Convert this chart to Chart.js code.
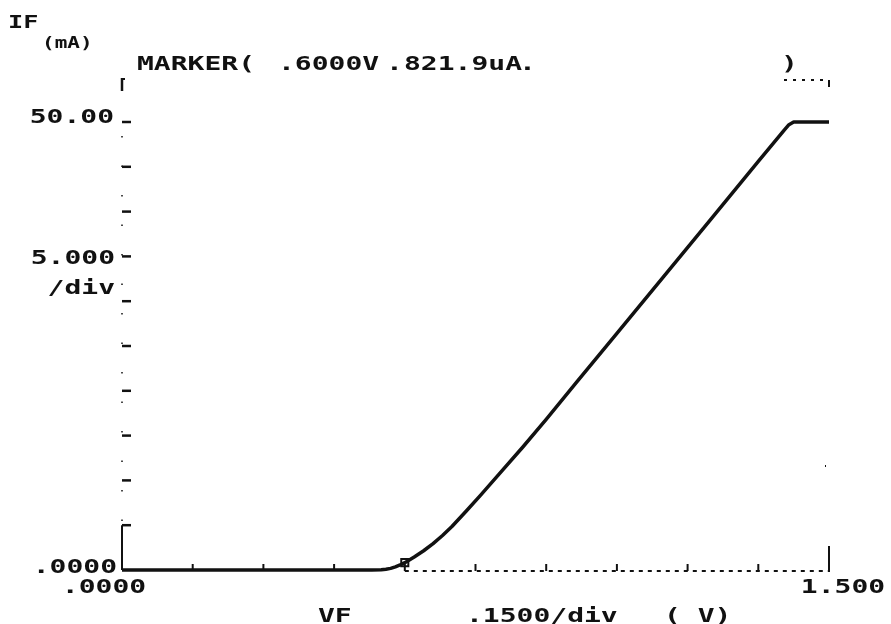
<!DOCTYPE html>
<html lang="en">
<head>
<meta charset="UTF-8">
<title>IF - VF</title>
<script src="https://cdn.jsdelivr.net/npm/chart.js@4.4.0/dist/chart.umd.min.js"></script>
<style>
  body { margin: 0; background: #fff; }
</style>
</head>
<body>
<canvas id="micanvas" width="891" height="624"></canvas>
<script>
// forward voltage (V) and forward current (mA)
const vf = [0, 0.30, 0.53, 0.55, 0.56, 0.57, 0.58, 0.59, 0.60, 0.62, 0.64, 0.66, 0.68, 0.70, 0.73, 0.76, 0.80, 0.85, 0.90, 0.965, 1.05, 1.15, 1.25, 1.35, 1.405, 1.415, 1.425, 1.500];
const iF = [0, 0, 0, 0.03, 0.08, 0.18, 0.35, 0.56, 0.82, 1.45, 2.15, 2.95, 3.85, 4.85, 6.55, 8.3, 10.7, 13.7, 16.8, 21.0, 26.4, 32.8, 39.2, 45.6, 49.1, 49.7, 50, 50];
const markerV = [0.6];
const markerI = [0.822];
const xTicks = [0, 0.15, 0.3, 0.45, 0.6, 0.75, 0.9, 1.05, 1.2, 1.35, 1.5];
const yTicks = [0, 5, 10, 15, 20, 25, 30, 35, 40, 45, 50];
const xEndLabels = ['.0000', '1.500'];
const yEndLabels = ['.0000', '50.00'];
const yDivLabel = ['5.000', '/div'];
const markerText = ['MARKER(', '.6000V', '.', '821.9uA', '.', ')'];

const INK = '#111';
const SX = 1.4;

function txt(ctx, s, x, y, align, size) {
  ctx.save();
  ctx.font = 'bold ' + size + 'px "DejaVu Sans Mono"';
  ctx.fillStyle = INK;
  ctx.textBaseline = 'alphabetic';
  const w = ctx.measureText(s).width * SX;
  let x0 = x;
  if (align === 'right') x0 = x - w;
  if (align === 'center') x0 = x - w / 2;
  ctx.translate(x0, y);
  ctx.scale(SX, 1);
  ctx.fillText(s, 0, 0);
  ctx.restore();
}

function seg(ctx, x1, y1, x2, y2, lw, dash) {
  ctx.save();
  ctx.strokeStyle = INK;
  ctx.lineWidth = lw;
  ctx.setLineDash(dash || []);
  ctx.beginPath();
  ctx.moveTo(x1, y1);
  ctx.lineTo(x2, y2);
  ctx.stroke();
  ctx.restore();
}

const frame = {
  id: 'frame',
  beforeDatasetsDraw(chart) {
    const ctx = chart.ctx;
    const xs = chart.scales.x, ys = chart.scales.y;
    const x0 = xs.getPixelForValue(0), x1 = xs.getPixelForValue(1.5);
    const y0 = ys.getPixelForValue(0), y50 = ys.getPixelForValue(50);
    const top = y50 - 44;
    // left axis: ticks, faint dotted line, solid foot
    seg(ctx, x0, y0, x0, ys.getPixelForValue(5), 2);
    seg(ctx, x0, y50 + 14, x0, ys.getPixelForValue(5), 1.5, [1.5, 28]);
    seg(ctx, x0, top, x0, top + 13, 2.5);
    seg(ctx, x0, top + 1, x0 + 3, top + 1, 2);
    yTicks.slice(1).forEach(v => {
      const y = ys.getPixelForValue(v);
      seg(ctx, x0, y, x0 + 9, y, 2.5);
    });
    // bottom axis, dotted after the curve leaves it
    seg(ctx, xs.getPixelForValue(0.6), y0 + 1, x1, y0 + 1, 2, [4, 5]);
    xTicks.slice(1, -1).forEach(v => {
      const x = xs.getPixelForValue(v);
      seg(ctx, x, y0 + 1, x, y0 - 6, 2);
    });
    // right axis foot and top-right bracket
    seg(ctx, x1, y0 + 2, x1, y0 - 24, 2);
    seg(ctx, x1 - 4, y0 - 104, x1 - 3, y0 - 104, 2);
    seg(ctx, x1 - 45, top + 2, x1, top + 2, 1.8, [3, 6]);
    seg(ctx, x1, top + 2, x1, top + 9, 2);
  },
  afterDraw(chart) {
    const ctx = chart.ctx;
    const xs = chart.scales.x, ys = chart.scales.y;
    const x0 = xs.getPixelForValue(0), x1 = xs.getPixelForValue(1.5);
    const y0 = ys.getPixelForValue(0), y50 = ys.getPixelForValue(50);
    // axis titles
    txt(ctx, 'IF', 8, 28, 'left', 18);
    txt(ctx, '(mA)', 42, 48, 'left', 15);
    // marker readout
    const mx = [137, 278, 386, 404, 519, 781];
    markerText.forEach((s, i) => txt(ctx, s, mx[i], 70, 'left', 20));
    // y labels
    txt(ctx, yEndLabels[1], x0 - 8, y50 + 1, 'right', 20);
    txt(ctx, yDivLabel[0], x0 - 7, ys.getPixelForValue(35) + 8, 'right', 20);
    txt(ctx, yDivLabel[1], x0 - 7, ys.getPixelForValue(30) - 7, 'right', 20);
    txt(ctx, yEndLabels[0], x0 - 5, y0 + 3, 'right', 20);
    // x labels
    txt(ctx, xEndLabels[0], x0 - 18, y0 + 23, 'center', 20);
    txt(ctx, xEndLabels[1], x1 + 14, y0 + 23, 'center', 20);
    txt(ctx, 'VF', 318, 622, 'left', 20);
    txt(ctx, '.1500/div', 466, 622, 'left', 20);
    txt(ctx, '( V)', 664, 622, 'left', 20);
  }
};

const ctx = document.getElementById('micanvas').getContext('2d');
const chart = new Chart(ctx, {
  type: 'line',
  data: {
    datasets: [{
      data: vf.map((v, i) => ({ x: v, y: iF[i] })),
      borderColor: INK,
      borderWidth: 3.5,
      borderJoinStyle: 'round',
      pointRadius: 0,
      tension: 0,
      order: 1,
      clip: 6
    }, {
      data: markerV.map((v, i) => ({ x: v, y: markerI[i] })),
      showLine: false,
      pointStyle: 'rect',
      pointRadius: 5,
      pointBorderWidth: 2,
      pointBorderColor: INK,
      pointBackgroundColor: 'rgba(0,0,0,0)',
      order: 0,
      clip: 10
    }]
  },
  options: {
    responsive: false,
    animation: false,
    layout: { padding: { left: 122, right: 62, top: 122, bottom: 54 } },
    plugins: { legend: { display: false }, tooltip: { enabled: false } },
    scales: {
      x: { type: 'linear', min: 0, max: 1.5, display: false },
      y: { type: 'linear', min: 0, max: 50, display: false }
    }
  },
  plugins: [frame]
});
</script>
</body>
</html>
